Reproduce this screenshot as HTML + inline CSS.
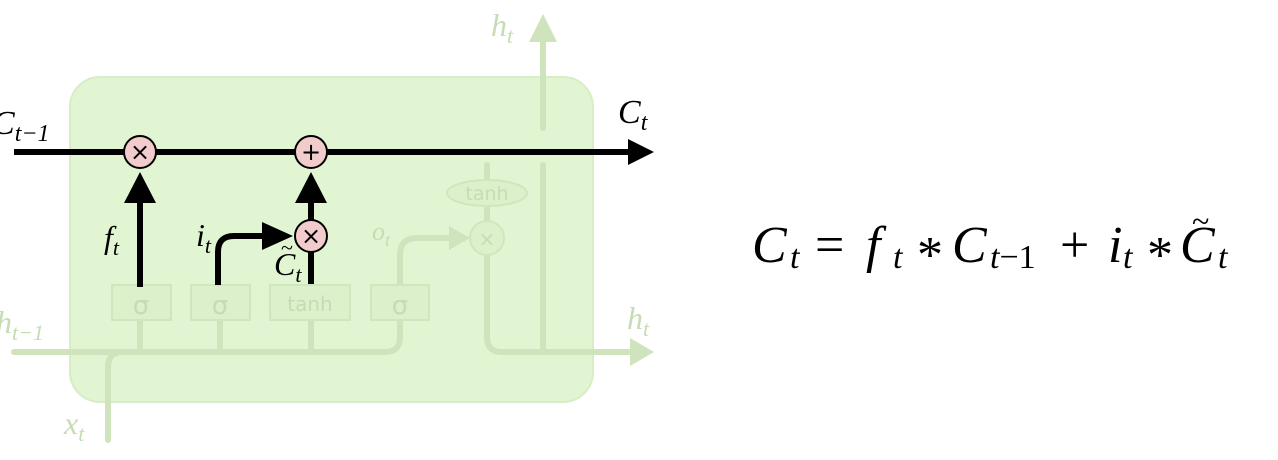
<!DOCTYPE html>
<html><head><meta charset="utf-8"><style>
html,body{margin:0;padding:0;background:#fff;width:1278px;height:460px;overflow:hidden}
svg{display:block}
.m{font-family:"Liberation Serif",serif;font-style:italic}
.s{font-family:"DejaVu Sans","Liberation Sans",sans-serif}
</style></head><body>
<svg width="1278" height="460" viewBox="0 0 1278 460" xmlns="http://www.w3.org/2000/svg">
<rect x="70" y="77" width="523" height="325" rx="30" fill="#e2f5d3" stroke="#d8ecc6" stroke-width="2"/>
<g fill="none" stroke="#cfe3bd" stroke-width="6" stroke-linecap="round">
<path d="M14 352 H385 Q400 352 400 337 V320"/>
<path d="M108 440 V367 Q108 352 123 352"/>
<path d="M140 320 V352 M220 320 V352 M311 320 V352"/>
<path d="M400 285 V255 Q400 238 417 238 H452"/>
<path d="M487 165 V180 M487 206 V221 M487 255 V337 Q487 352 502 352 H630"/>
<path d="M543 350 V165 M543 128 V42"/>
</g>
<g fill="#cfe3bd">
<polygon points="630,338 654,352 630,366"/>
<polygon points="529,42 543,14 557,42"/>
<polygon points="449,226 470,238 449,250"/>
</g>
<g fill="#dcf0cb" stroke="#d0e6bc" stroke-width="2">
<rect x="112" y="285" width="59" height="35"/>
<rect x="191" y="285" width="59" height="35"/>
<rect x="270" y="285" width="80" height="35"/>
<rect x="371" y="285" width="58" height="35"/>
<ellipse cx="487" cy="193" rx="40" ry="13"/>
<circle cx="487" cy="238" r="17"/>
</g>
<g class="s" fill="#c6dcb4" text-anchor="middle">
<text x="141" y="314" font-size="26">σ</text>
<text x="220" y="314" font-size="26">σ</text>
<text x="310" y="311" font-size="20">tanh</text>
<text x="400" y="314" font-size="26">σ</text>
<text x="487" y="200" font-size="19">tanh</text>
<text x="487" y="246" font-size="20">×</text>
</g>
<g class="m" fill="#c6dcb4">
<text x="372" y="240" font-size="26">o<tspan font-size="18" dy="6">t</tspan></text>
<text x="491" y="36" font-size="32">h<tspan font-size="22" dy="7">t</tspan></text>
<text x="627" y="329" font-size="32">h<tspan font-size="22" dy="7">t</tspan></text>
<text x="-4" y="333" font-size="32">h<tspan font-size="22" dy="7">t−1</tspan></text>
<text x="64" y="434" font-size="32">x<tspan font-size="22" dy="7">t</tspan></text>
</g>
<g stroke="#000" stroke-width="6" fill="none">
<path d="M14 152 H632"/>
<path d="M140 287 V200"/>
<path d="M311 284 V252 M311 220 V200"/>
<path d="M218 285 V252 Q218 236 234 236 H265"/>
</g>
<g fill="#000">
<polygon points="628,139 654,152 628,165"/>
<polygon points="124,203 140,172 156,203"/>
<polygon points="295,203 311,172 327,203"/>
<polygon points="262,222 293,236 262,250"/>
</g>
<g fill="#f2cccc" stroke="#000" stroke-width="2">
<circle cx="140" cy="152" r="16"/>
<circle cx="311" cy="152" r="16"/>
<circle cx="311" cy="236" r="16"/>
</g>
<g class="s" fill="#000" text-anchor="middle" font-size="24">
<text x="140" y="160">×</text>
<text x="311" y="160">+</text>
<text x="311" y="244">×</text>
</g>
<g class="m" fill="#000">
<text x="-8" y="134" font-size="34">C<tspan font-size="24" dy="7">t−1</tspan></text>
<text x="618" y="123" font-size="34">C<tspan font-size="24" dy="7">t</tspan></text>
<text x="104" y="248" font-size="32">f<tspan font-size="22" dy="7">t</tspan></text>
<text x="196" y="246" font-size="32">i<tspan font-size="22" dy="7">t</tspan></text>
<text x="274" y="275" font-size="32">C<tspan font-size="22" dy="7">t</tspan></text>
<text x="281" y="255" font-size="22" font-style="normal">~</text>
</g>
<g class="m" fill="#000" font-size="52">
<text x="752" y="262">C</text>
<text x="790" y="268" font-size="34">t</text>
<text x="815" y="262" font-style="normal">=</text>
<text x="866" y="262">f</text>
<text x="893" y="268" font-size="34">t</text>
<text x="917" y="272" font-style="normal">*</text>
<text x="952" y="262">C</text>
<text x="990" y="268" font-size="34">t<tspan font-style="normal">−1</tspan></text>
<text x="1060" y="262" font-style="normal">+</text>
<text x="1108" y="262">i</text>
<text x="1123" y="268" font-size="34">t</text>
<text x="1147" y="272" font-style="normal">*</text>
<text x="1180" y="262">C</text>
<text x="1192" y="232" font-size="32" font-style="normal">~</text>
<text x="1218" y="268" font-size="34">t</text>
</g>
</svg>
</body></html>
